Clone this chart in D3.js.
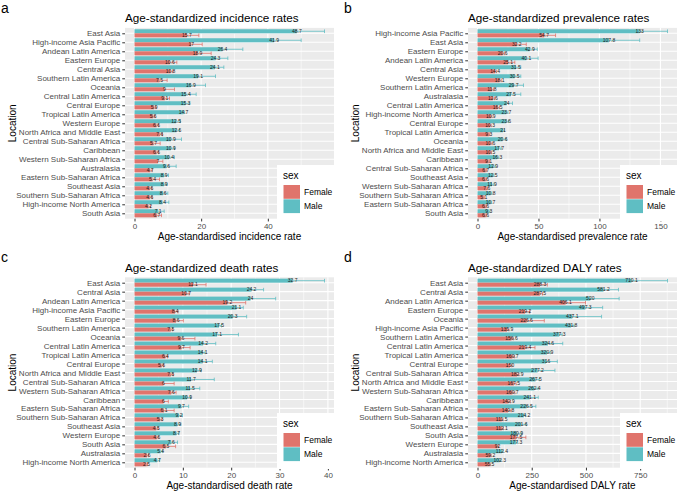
<!DOCTYPE html>
<html><head><meta charset="utf-8">
<script src="https://cdn.jsdelivr.net/npm/d3@7"></script>
<style>body{margin:0;background:#fff} svg{font-family:"Liberation Sans",Arial,Helvetica,sans-serif}</style>
</head><body><svg id="chart" width="678" height="491"></svg>
<script>
// ---------- data ----------
const sexes = ["Female", "Male"];

const catsA = ["East Asia","High-income Asia Pacific","Andean Latin America","Eastern Europe","Central Asia","Southern Latin America","Oceania","Central Latin America","Central Europe","Tropical Latin America","Western Europe","North Africa and Middle East","Central Sub-Saharan Africa","Caribbean","Western Sub-Saharan Africa","Australasia","Eastern Sub-Saharan Africa","Southeast Asia","Southern Sub-Saharan Africa","High-income North America","South Asia"];
const maleA = [48.7,41.9,26.4,24.3,24.1,19.1,16.9,15.4,15.3,14.7,12.5,12.6,10.9,10.9,10.4,9.6,8.9,8.9,8.6,8.4,7.1];
const maleUpA = [57.0,50.0,32.5,28.0,26.8,24.3,21.3,18.5,16.6,15.0,13.8,13.5,14.1,12.0,12.0,12.5,10.2,9.8,10.0,10.3,8.9];
const femaleA = [15.7,17,18.9,10.6,10.8,7.5,9,9.1,5.9,5.6,6.6,7.6,5.7,6.6,7,4.7,5.4,4.6,4.6,4.2,6.7];
const femaleUpA = [19.3,20.3,23.0,12.7,11.5,9.8,12.0,10.5,6.4,6.1,7.2,8.4,7.7,7.2,8.5,5.3,7.5,5.2,5.3,4.8,8.1];
const ticksA = [0,20,40];

const catsB = ["High-income Asia Pacific","East Asia","Eastern Europe","Andean Latin America","Central Asia","Western Europe","Southern Latin America","Australasia","Central Latin America","High-income North America","Central Europe","Tropical Latin America","Oceania","North Africa and Middle East","Caribbean","Central Sub-Saharan Africa","Southeast Asia","Western Sub-Saharan Africa","Southern Sub-Saharan Africa","Eastern Sub-Saharan Africa","South Asia"];
const maleB = [133,107.8,42.9,40.1,31.5,30.5,29.7,27.5,24,23.7,23.6,21,20.6,17.7,16.3,12.9,12.5,11.9,10.8,10.7,9.3];
const maleUpB = [155.8,133,49,49.7,35.5,35.5,37.7,35.5,28.7,25,25.5,22,23.5,19.5,17.5,14.5,13.5,13.5,11.8,11.6,10.2];
const femaleB = [54.7,32.2,20.6,25.1,14.4,18.1,11.8,12.6,16.5,10.9,10.3,9.3,10.6,10.5,9.1,6.7,6.6,7.6,5.1,6.6,6.6];
const femaleUpB = [64,40,22,30.6,15.5,19.5,13,14,18,11.8,11.2,10,12,11.5,9.8,7.5,7.2,8.3,5.6,7.2,7.2];
const ticksB = [0,50,100,150];

const catsC = ["East Asia","Central Asia","Andean Latin America","High-income Asia Pacific","Eastern Europe","Southern Latin America","Oceania","Central Latin America","Tropical Latin America","Central Europe","North Africa and Middle East","Central Sub-Saharan Africa","Western Sub-Saharan Africa","Caribbean","Eastern Sub-Saharan Africa","Southern Sub-Saharan Africa","Southeast Asia","Western Europe","South Asia","Australasia","High-income North America"];
const maleC = [32.7,24.2,24,21.1,20.3,17.5,17.1,14.2,14.1,14.1,12.9,11.7,11.5,10.9,9.7,9.2,8.9,8.7,7.6,5.4,4.7];
const maleUpC = [39.3,26.7,29.2,22.5,23.2,18,21.5,16.8,14.6,16.1,13.8,16.5,13.5,11.6,11.2,9.9,9.6,9.2,8.9,5.8,5.2];
const femaleC = [12.1,10.7,19.2,8.4,8.6,7.5,9.6,9.7,6.4,5.6,7.5,6,7.6,6,6.1,5.3,4.5,4.6,6.5,2.6,2.5];
const femaleUpC = [14.8,11.3,23,9,10.1,7.9,12.5,11.5,6.8,6,8,8.2,8.6,7,8.2,5.7,4.9,4.9,8.5,2.9,2.7];
const ticksC = [0,10,20,30,40];

const catsD = ["East Asia","Central Asia","Andean Latin America","Eastern Europe","Oceania","High-income Asia Pacific","Southern Latin America","Central Latin America","Tropical Latin America","Central Europe","Central Sub-Saharan Africa","North Africa and Middle East","Western Sub-Saharan Africa","Caribbean","Eastern Sub-Saharan Africa","Southern Sub-Saharan Africa","Southeast Asia","South Asia","Western Europe","Australasia","High-income North America"];
const maleD = [710.1,581.2,520,497.3,437.1,431.8,377.3,324.6,320.9,316,277.2,267.5,262.4,241.1,226.5,214.2,201.6,180.9,177.3,112.4,102.3];
const maleUpD = [876,650,653,577,572,445,390,393,335,368,357,285,280,280,269,222,225,205,185,118,108];
const femaleD = [288.3,287.5,406.1,219.2,226.6,135.9,156.6,219.4,160.7,150,182.9,167.5,160.7,142.9,140.8,111.5,112.1,177.5,92,59.2,55.5];
const femaleUpD = [322,300,498,240,308,145,165,265,170,158,191,178,172,152,155,118,119,223,97,63,59];
const ticksD = [0,250,500,750];

// ---------- layout ----------
const colors = {Female:"#E0746C", Male:"#5FBEC3"};
const panels = [
  {letter:"a", title:"Age-standardized incidence rates", xlabel:"Age-standardised incidence rate",
   cats:catsA, male:maleA, maleUp:maleUpA, female:femaleA, femaleUp:femaleUpA, ticks:ticksA,
   x0:125, x1:334, y0:27.9, y1:218.7, lx:0, ly:0, legX:277, legY:165},
  {letter:"b", title:"Age-standardized prevalence rates", xlabel:"Age-standardised prevalence rate",
   cats:catsB, male:maleB, maleUp:maleUpB, female:femaleB, femaleUp:femaleUpB, ticks:ticksB,
   x0:468, x1:677, y0:27.9, y1:218.7, lx:343, ly:0, legX:620, legY:165},
  {letter:"c", title:"Age-standardized death rates", xlabel:"Age-standardised death rate",
   cats:catsC, male:maleC, maleUp:maleUpC, female:femaleC, femaleUp:femaleUpC, ticks:ticksC,
   x0:125, x1:334, y0:277.3, y1:467.7, lx:0, ly:249, legX:277, legY:413},
  {letter:"d", title:"Age-standardized DALY rates", xlabel:"Age-standardised DALY rate",
   cats:catsD, male:maleD, maleUp:maleUpD, female:femaleD, femaleUp:femaleUpD, ticks:ticksD,
   x0:468, x1:677, y0:277.3, y1:467.7, lx:343, ly:249, legX:620, legY:413}
];

const svg = d3.select("#chart");

panels.forEach(p => {
  const g = svg.append("g");
  const M = d3.max(p.maleUp.concat(p.femaleUp));
  const x = d3.scaleLinear().domain([-0.05*M, 1.05*M]).range([p.x0, p.x1]);
  const y = d3.scalePoint().domain(p.cats).range([p.y0, p.y1]).padding(0.6);
  const step = y.step();
  const bw = step*0.45;

  // panel
  g.append("rect").attr("x",p.x0).attr("y",p.y0).attr("width",p.x1-p.x0).attr("height",p.y1-p.y0).attr("fill","#EBEBEB");
  // minor grid
  const d = p.ticks[1]-p.ticks[0];
  const minors = [];
  for (let v = p.ticks[0]-d/2; v <= x.domain()[1]; v += d) if (v >= x.domain()[0]) minors.push(v);
  g.selectAll(".mn").data(minors).join("line").attr("x1",v=>x(v)).attr("x2",v=>x(v))
    .attr("y1",p.y0).attr("y2",p.y1).attr("stroke","#fff").attr("stroke-width",0.55);
  g.selectAll(".mj").data(p.ticks).join("line").attr("x1",v=>x(v)).attr("x2",v=>x(v))
    .attr("y1",p.y0).attr("y2",p.y1).attr("stroke","#fff").attr("stroke-width",1.1);
  g.selectAll(".hg").data(p.cats).join("line").attr("x1",p.x0).attr("x2",p.x1)
    .attr("y1",c=>y(c)).attr("y2",c=>y(c)).attr("stroke","#fff").attr("stroke-width",1.1);

  const rows = p.cats.map((c,i)=>({c, m:p.male[i], mu:p.maleUp[i], f:p.female[i], fu:p.femaleUp[i]}));
  const series = [
    {key:"Male", off:-bw, val:r=>r.m, up:r=>r.mu},
    {key:"Female", off:0, val:r=>r.f, up:r=>r.fu}
  ];
  series.forEach(s => {
    g.selectAll(null).data(rows).join("rect")
      .attr("x",x(0)).attr("y",r=>y(r.c)+s.off).attr("width",r=>x(s.val(r))-x(0)).attr("height",bw)
      .attr("fill",colors[s.key]);
  });
  series.forEach(s => {
    const eg = g.append("g").attr("stroke",colors[s.key]).attr("stroke-width",0.8);
    eg.selectAll(null).data(rows).join("line")
      .attr("x1",r=>x(s.val(r))).attr("x2",r=>x(s.up(r)))
      .attr("y1",r=>y(r.c)+s.off+bw/2).attr("y2",r=>y(r.c)+s.off+bw/2);
    eg.selectAll(null).data(rows).join("line")
      .attr("x1",r=>x(s.up(r))).attr("x2",r=>x(s.up(r)))
      .attr("y1",r=>y(r.c)+s.off+bw*0.05).attr("y2",r=>y(r.c)+s.off+bw*0.95);
  });
  series.forEach(s => {
    g.selectAll(null).data(rows).join("text")
      .attr("x",r=>x(s.val(r))).attr("y",r=>y(r.c)+s.off+bw/2+1.7)
      .attr("text-anchor","middle").attr("font-size",5).attr("fill","#1a1a1a")
      .text(r=>s.val(r));
  });

  // axes
  const ay = g.append("g").attr("transform",`translate(${p.x0},0)`)
    .call(d3.axisLeft(y).tickSize(2.75).tickPadding(2));
  ay.select(".domain").remove();
  ay.selectAll("line").attr("stroke","#333");
  ay.selectAll("text").attr("fill","#4D4D4D").attr("font-size",8);
  const ax = g.append("g").attr("transform",`translate(0,${p.y1})`)
    .call(d3.axisBottom(x).tickValues(p.ticks).tickSize(2.75).tickPadding(2).tickFormat(d3.format("d")));
  ax.select(".domain").remove();
  ax.selectAll("line").attr("stroke","#333");
  ax.selectAll("text").attr("fill","#4D4D4D").attr("font-size",8);

  // titles
  g.append("text").attr("x",p.x0).attr("y",p.y0-5.5).attr("font-size",11.7).attr("fill","#000").text(p.title);
  g.append("text").attr("x",(p.x0+p.x1)/2).attr("y",p.y1+21.5).attr("text-anchor","middle")
    .attr("font-size",10).attr("fill","#000").text(p.xlabel);
  g.append("text").attr("transform",`translate(${p.lx+15.5},${(p.y0+p.y1)/2}) rotate(-90)`)
    .attr("text-anchor","middle").attr("font-size",10).attr("fill","#000").text("Location");
  g.append("text").attr("x",p.lx+1).attr("y",p.ly+12.5).attr("font-size",14).attr("fill","#000").text(p.letter);

  // legend
  const lg = g.append("g").attr("transform",`translate(${p.legX},${p.legY})`);
  lg.append("rect").attr("width",63).attr("height",56).attr("fill","#fff");
  lg.append("text").attr("x",6).attr("y",14).attr("font-size",10).attr("fill","#000").text("sex");
  sexes.forEach((s,i) => {
    lg.append("rect").attr("x",6.5).attr("y",20+i*14.3).attr("width",16.5).attr("height",13.8).attr("fill",colors[s]);
    lg.append("text").attr("x",27).attr("y",30+i*14.3).attr("font-size",8.5).attr("fill","#000").text(s);
  });
});
</script>
</body></html>
